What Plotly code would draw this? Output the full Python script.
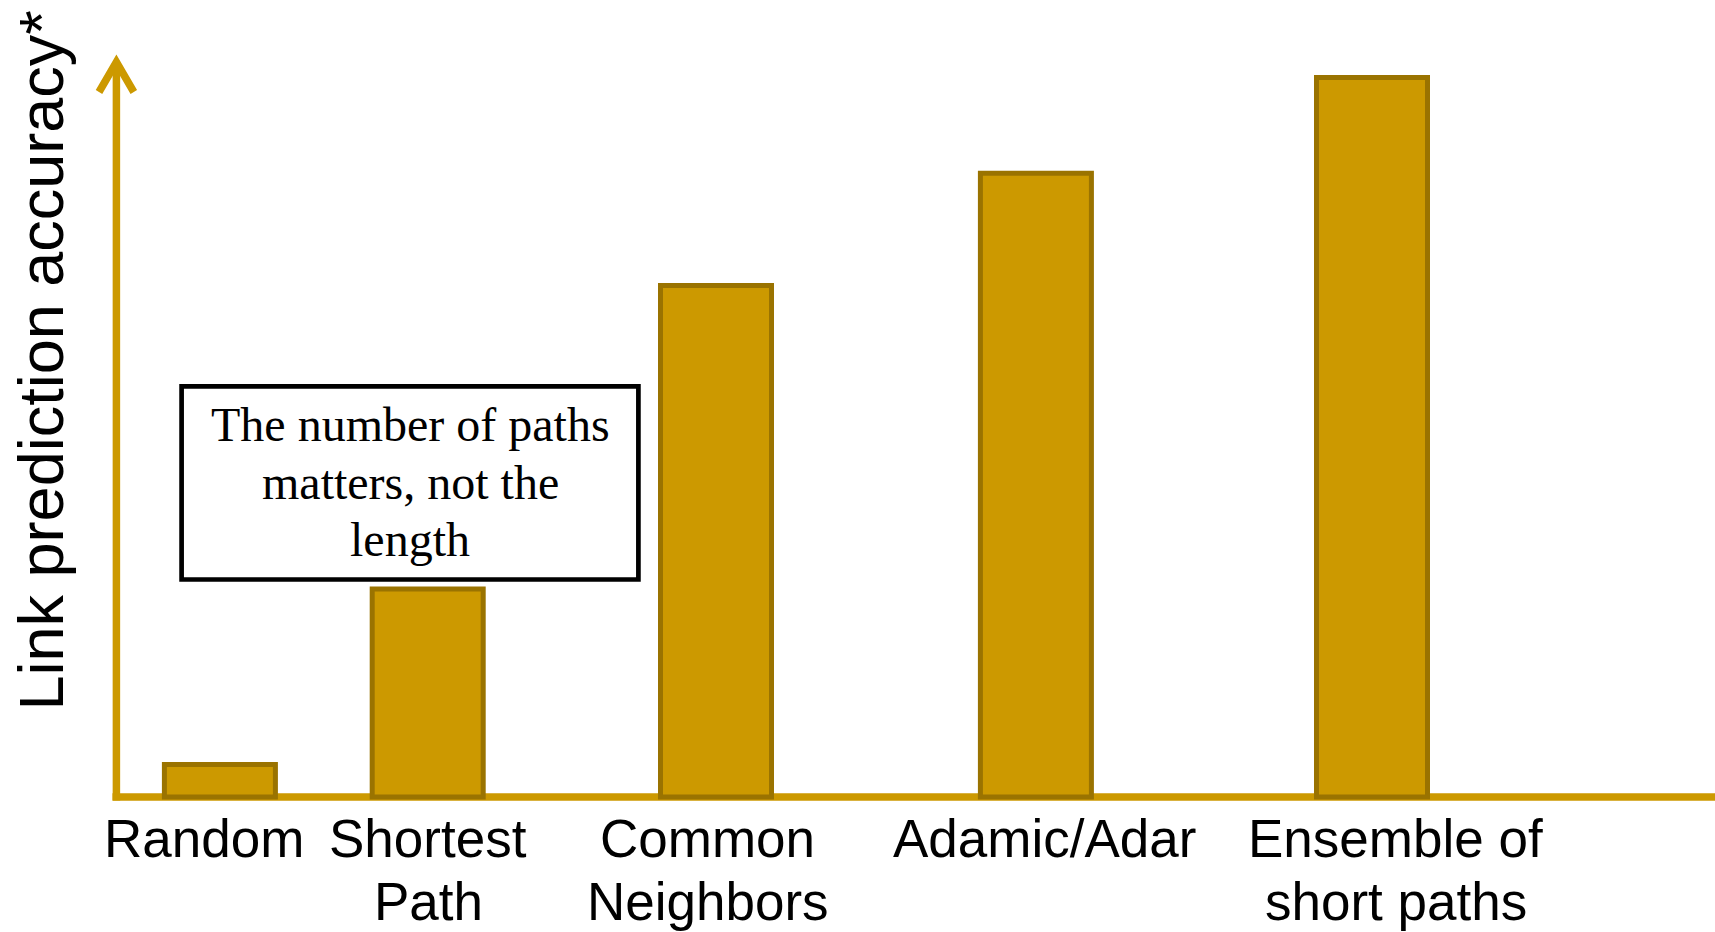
import plotly.graph_objects as go

# ---- data -------------------------------------------------------------
methods = ["Random", "Shortest\nPath", "Common\nNeighbors", "Adamic/Adar", "Ensemble of\nshort paths"]
accuracy = [0.045, 0.289, 0.711, 0.867, 1.000]   # relative link prediction accuracy
note_lines = ["The number of paths", "matters, not the", "length"]

# ---- layout (pixel geometry of the canvas) ------------------------------
W, H = 1715, 932
bar_x = [219.9, 427.7, 716.0, 1035.9, 1372.0]     # bar centres
label_x = [203.5, 428.2, 707.7, 1044.5, 1395.5]   # category label centres
BASE_PX = 797.0      # pixel row of the value axis origin
UNIT_PX = 719.5      # pixels per accuracy unit

GOLD = "#CC9900"
GOLD_DARK = "#9A7300"


def ydat(py):
    """Pixel row -> y data value."""
    return (BASE_PX - py) / UNIT_PX


fig = go.Figure()

fig.add_trace(go.Bar(
    x=bar_x,
    y=accuracy,
    width=111,
    marker=dict(color=GOLD, line=dict(color=GOLD_DARK, width=5)),
    hoverinfo="skip",
))

shapes = [
    # horizontal axis
    dict(type="line", layer="below", xref="x", yref="y",
         x0=112.5, x1=W, y0=0, y1=0,
         line=dict(color=GOLD, width=7.5)),
    # vertical axis
    dict(type="line", layer="below", xref="x", yref="y",
         x0=116.4, x1=116.4, y0=ydat(800.5), y1=ydat(63),
         line=dict(color=GOLD, width=7.5)),
    # open arrow head
    dict(type="path", layer="below", xref="x", yref="y",
         path=f"M 99,{ydat(92)} L 116.4,{ydat(62)} L 133.8,{ydat(92)}",
         line=dict(color=GOLD, width=7.5)),
    # note box
    dict(type="rect", xref="x", yref="y",
         x0=181.6, x1=638.4, y0=ydat(386.3), y1=ydat(579.5),
         line=dict(color="black", width=4.7), fillcolor="white"),
]

annotations = []

# category labels, one line at a time
LABEL_FS = 53
label_mid = [838.5, 901.0]
for name, lx in zip(methods, label_x):
    for i, line in enumerate(name.split("\n")):
        annotations.append(dict(
            x=lx, y=ydat(label_mid[i]), xref="x", yref="y",
            text=line, showarrow=False, xanchor="center", yanchor="middle",
            font=dict(family="Liberation Sans, Arial, sans-serif", size=LABEL_FS, color="black"),
        ))

# note text
NOTE_FS = 48
note_mid = [424.5, 482.0, 539.0]
for line, my in zip(note_lines, note_mid):
    annotations.append(dict(
        x=410, y=ydat(my), xref="x", yref="y",
        text=line, showarrow=False, xanchor="center", yanchor="middle",
        font=dict(family="Liberation Serif, Times New Roman, serif", size=NOTE_FS, color="black"),
    ))

# value axis title
annotations.append(dict(
    x=40.5, y=ydat(361), xref="x", yref="y",
    text="Link prediction accuracy*", textangle=-90, showarrow=False,
    xanchor="center", yanchor="middle",
    font=dict(family="Liberation Sans, Arial, sans-serif", size=63, color="black"),
))

fig.update_layout(
    width=W, height=H,
    margin=dict(l=0, r=0, t=0, b=0),
    paper_bgcolor="white", plot_bgcolor="white",
    showlegend=False,
    xaxis=dict(visible=False, range=[0, W], fixedrange=True),
    yaxis=dict(visible=False, range=[ydat(H), ydat(0)], fixedrange=True),
    shapes=shapes,
    annotations=annotations,
)

fig.write_html("out.html", config={"displayModeBar": False})
